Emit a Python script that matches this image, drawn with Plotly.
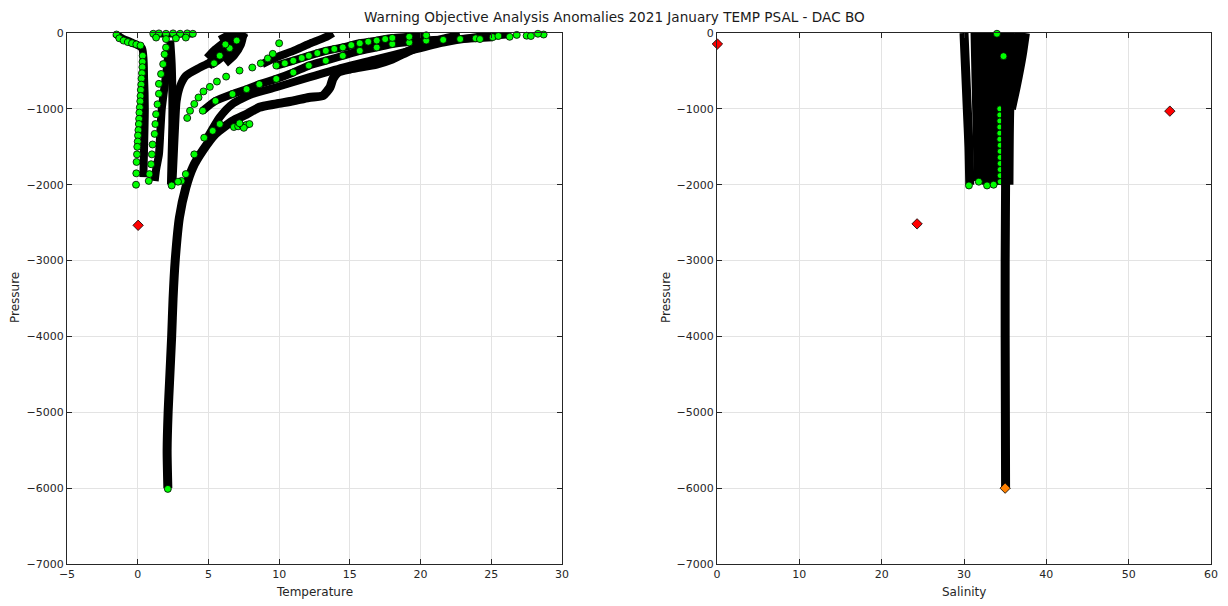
import plotly.graph_objects as go

# ---------------- Temperature panel: dense profiles (drawn as thick strokes) ----------------
deep_temp = [2.13, 2.08, 2.15, 2.25, 2.4, 2.5, 2.65, 2.95, 3.4, 3.9, 4.6, 5.5, 6.7, 7.7, 8.6, 9.8, 11.0,
             12.1, 13.1, 13.6, 13.8, 14.15, 15.0, 16.9, 18.0, 19.2, 20.4, 21.6, 22.8]
deep_pres = [-6000, -5500, -5000, -4600, -4000, -3500, -3000, -2430, -2040, -1770, -1550, -1330, -1160,
             -1070, -980, -935, -895, -850, -825, -715, -605, -520, -475, -410, -345, -235, -145, -80, -35]

strand_c_temp = [4.8, 5.8, 6.7, 8.1, 9.8, 12.1, 14.5, 16.9, 19.2, 21.6, 23.9, 26.3]
strand_c_pres = [-1420, -1110, -935, -805, -715, -585, -455, -345, -235, -125, -55, -15]

strand_a_temp = [8.8, 9.8, 11.0, 12.1, 13.3, 13.8]
strand_a_pres = [-410, -320, -235, -145, -55, 0]

strand_d_temp = [4.6, 5.5, 6.7, 7.7, 8.6, 9.8, 11.0, 12.1, 13.3, 14.5, 15.7, 16.9, 18.0, 20.4, 22.8, 25.1]
strand_d_pres = [-1025, -895, -805, -740, -675, -605, -520, -430, -365, -300, -235, -190, -145, -100, -80, -55]

strand_up_temp = [9.8, 11.0, 12.1, 13.3, 14.5, 15.7, 16.9, 18.0, 19.2, 20.4]
strand_up_pres = [-430, -365, -300, -235, -190, -135, -100, -65, -50, -30]

cold_temp = [-1.6, -1.2, -0.5, 0.3, 0.45, 0.5, 0.45, 0.4]
cold_pres = [0, -60, -120, -200, -600, -1000, -1500, -1900]

mid_temp = [2.2, 2.1, 1.9, 1.7, 1.6, 1.5, 1.3, 1.2]
mid_pres = [-150, -400, -700, -1000, -1300, -1600, -1800, -1950]

col_temp = [2.3, 2.4, 2.45, 2.45, 2.4, 2.35]
col_pres = [-100, -400, -800, -1200, -1600, -2000]

curve_temp = [2.45, 2.55, 2.65, 2.75, 3.0, 3.4, 4.4, 5.1, 5.5, 5.8, 6.5, 7.3]
curve_pres = [-2000, -1600, -1200, -900, -700, -565, -455, -385, -275, -190, -100, -20]

# warm shallow cluster around 5-7.5 degrees
clus1_temp = [5.0, 5.3, 6.0, 7.0, 7.6]
clus1_pres = [-450, -350, -250, -120, 0]
clus2_temp = [6.2, 6.8, 7.3, 7.5]
clus2_pres = [-400, -300, -150, 0]
clus3_temp = [4.9, 5.4, 6.2, 6.9]
clus3_pres = [-330, -230, -110, 0]
clus4_temp = [5.6, 6.4, 7.0, 7.6]
clus4_pres = [-200, -150, -60, -10]
clus5_temp = [5.2, 5.9, 6.6, 7.2]
clus5_pres = [-420, -330, -200, -60]
clus6_temp = [5.8, 6.3, 6.6, 7.1]
clus6_pres = [-90, -40, -10, -5]
surf_temp = [1.0, 3.9]
surf_pres = [-5, -5]

# ---------------- Temperature panel: anomaly points (green) ----------------
g_cold_temp = [-1.5, -1.3, -1.0, -0.7, -0.4, -0.1, 0.2, 0.35, 0.34, 0.33, 0.3, 0.27, 0.25, 0.22, 0.2,
               0.18, 0.15, 0.12, 0.1, 0.08, 0.05, 0.02, 0.0, -0.03, -0.05, -0.08, -0.1, -0.12]
g_cold_pres = [-20, -70, -100, -120, -135, -150, -165, -300, -380, -450, -530, -600, -680, -750, -830,
               -900, -980, -1050, -1130, -1200, -1280, -1350, -1430, -1500, -1600, -1700, -1850, -2000]

g_mid_temp = [2.0, 1.9, 1.8, 1.65, 1.5, 1.5, 1.4, 1.3, 1.25, 1.2, 1.05, 1.0, 0.95, 0.83, 0.78]
g_mid_pres = [-190, -280, -410, -540, -670, -800, -940, -1070, -1200, -1330, -1470, -1600, -1730, -1860, -1950]

g_e_temp = [3.5, 3.7, 4.0, 4.3, 4.65, 5.1, 5.6, 6.25, 7.2, 8.1, 8.7, 9.2, 9.55, 10.0]
g_e_pres = [-1120, -1025, -935, -850, -770, -710, -640, -575, -495, -455, -400, -335, -275, -135]

g_d_temp = [4.6, 5.5, 6.7, 7.7, 8.6, 9.8, 11.0, 12.1, 13.3, 14.5, 15.7, 16.9, 18.0, 19.2, 20.4, 21.6,
            22.8, 23.9, 25.1, 26.3, 27.5, 28.7, 28.3, 27.8, 26.8, 25.5, 24.2]
g_d_pres = [-1025, -895, -805, -740, -675, -605, -520, -430, -365, -300, -235, -190, -145, -125, -100,
            -90, -80, -70, -55, -50, -35, -20, -10, -40, -25, -40, -80]

g_up_temp = [9.8, 10.4, 11.0, 11.6, 12.1, 12.7, 13.3, 13.9, 14.5, 15.1, 15.7, 16.3, 16.9, 17.5, 18.0, 19.2, 20.4]
g_up_pres = [-430, -400, -365, -330, -300, -265, -235, -210, -190, -160, -135, -115, -100, -80, -65, -50, -30]

g_misc_temp = [6.8, 7.1, 7.4, 7.7, 7.9, 7.5, 7.2, 3.4, 3.1, 4.0, 4.7, 5.3, 5.8, 2.4, 2.85,
               1.1, 1.5, 2.0, 2.5, 3.0, 3.5, 3.9, 1.3, 2.0, 2.7, 3.4, 6.5, 7.0, 5.8, 6.2, 5.4, 2.13]
g_misc_pres = [-1240, -1230, -1220, -1210, -1200, -1250, -1190, -1860, -1950, -1600, -1380, -1290, -1200,
               -2010, -1960, -10, -5, -10, -5, -10, -5, -10, -60, -80, -70, -60, -200, -100, -300, -150, -400,
               -6010]

# flagged (red) point in the temperature panel
red_t_temp = [0.03]
red_t_pres = [-2535]

# ---------------- Salinity panel ----------------
sal1 = [30.0, 30.2, 30.4, 30.6, 30.7]
sal1_pres = [0, -500, -1000, -1500, -2000]
sal2 = [31.4, 31.5, 31.6, 31.7, 31.8]
sal2_pres = [0, -500, -1000, -1500, -1950]
sal3 = [32.4, 32.5, 32.6, 32.7, 32.8]
sal3_pres = [0, -500, -1000, -1500, -2000]
sal4 = [33.5, 33.5, 33.6, 33.6, 33.6]
sal4_pres = [0, -500, -1000, -1500, -2000]
sal_deep = [35.0, 35.05, 35.05, 35.0, 35.0, 35.05]
sal_deep_pres = [0, -1000, -2000, -3000, -4000, -6000]
sal5 = [34.2, 34.2, 34.3, 34.4, 34.5]
sal5_pres = [0, -500, -1000, -1500, -2000]
sal6 = [36.0, 35.8, 35.5, 35.4]
sal6_pres = [0, -500, -1000, -2000]
sal7 = [37.4, 37.0, 36.3, 35.7]
sal7_pres = [0, -300, -700, -1000]
sal8 = [36.8, 36.3, 35.8]
sal8_pres = [0, -400, -900]

g_sal = [30.6, 31.8, 32.8, 33.6, 34.8, 34.0]
g_sal_pres = [-2010, -1960, -2010, -2000, -305, -10]
g_sal_col = [34.35, 34.35, 34.35, 34.35, 34.35, 34.35, 34.4, 34.4, 34.4, 34.4, 34.4, 34.4, 34.4]
g_sal_col_pres = [-1000, -1080, -1160, -1240, -1320, -1400, -1480, -1560, -1640, -1720, -1800, -1880, -1960]

red_s = [0.05, 24.3, 55.0]
red_s_pres = [-145, -2516, -1030]
orange_s = [35.0]
orange_s_pres = [-6000]

GREEN = "#00ff00"
fig = go.Figure()


def stroke(x, y, xa, ya, w=8):
    fig.add_trace(go.Scatter(x=x, y=y, mode="lines", xaxis=xa, yaxis=ya,
                             line=dict(color="black", width=w, shape="spline", smoothing=0.6),
                             hoverinfo="skip", showlegend=False))


def dots(x, y, xa, ya, color=GREEN, symbol="circle", size=7):
    fig.add_trace(go.Scatter(x=x, y=y, mode="markers", xaxis=xa, yaxis=ya, cliponaxis=False,
                             marker=dict(color=color, symbol=symbol, size=size,
                                         line=dict(color="black", width=0.8)),
                             showlegend=False))


stroke(deep_temp, deep_pres, "x", "y", w=9)
for tx, py in [(strand_c_temp, strand_c_pres), (strand_a_temp, strand_a_pres),
               (strand_d_temp, strand_d_pres), (strand_up_temp, strand_up_pres),
               (cold_temp, cold_pres), (mid_temp, mid_pres), (col_temp, col_pres),
               (curve_temp, curve_pres), (clus1_temp, clus1_pres), (clus2_temp, clus2_pres),
               (clus3_temp, clus3_pres), (clus4_temp, clus4_pres), (clus5_temp, clus5_pres),
               (clus6_temp, clus6_pres), (surf_temp, surf_pres)]:
    stroke(tx, py, "x", "y")

for tx, py in [(g_cold_temp, g_cold_pres), (g_mid_temp, g_mid_pres), (g_e_temp, g_e_pres),
               (g_d_temp, g_d_pres), (g_up_temp, g_up_pres), (g_misc_temp, g_misc_pres)]:
    dots(tx, py, "x", "y")

dots(red_t_temp, red_t_pres, "x", "y", color="#ff0000", symbol="diamond", size=8)

stroke(sal1, sal1_pres, "x2", "y2", w=9)
for sx, py in [(sal2, sal2_pres), (sal3, sal3_pres), (sal4, sal4_pres), (sal5, sal5_pres),
               (sal6, sal6_pres), (sal7, sal7_pres), (sal8, sal8_pres)]:
    stroke(sx, py, "x2", "y2", w=10)
dots(g_sal_col, g_sal_col_pres, "x2", "y2", size=6)
stroke(sal_deep, sal_deep_pres, "x2", "y2", w=9)

dots(g_sal, g_sal_pres, "x2", "y2")
dots(red_s, red_s_pres, "x2", "y2", color="#ff0000", symbol="diamond", size=8)
dots(orange_s, orange_s_pres, "x2", "y2", color="#ff8000", symbol="diamond", size=8)

W, H = 1228, 606
axis_common = dict(showgrid=True, gridcolor="#e3e3e3", gridwidth=1, zeroline=False,
                   showline=True, linecolor="#262626", linewidth=1, mirror="ticks",
                   ticks="inside", ticklen=5, tickcolor="#262626",
                   tickfont=dict(family="DejaVu Sans", size=11, color="#262626"),
                   automargin=False)
y_dom = [1 - 564 / H, 1 - 33 / H]

fig.update_layout(
    width=W, height=H, margin=dict(l=0, r=0, t=0, b=0),
    paper_bgcolor="white", plot_bgcolor="white",
    xaxis=dict(domain=[67 / W, 562 / W], range=[-5, 30], dtick=5, anchor="y", **axis_common),
    yaxis=dict(domain=y_dom, range=[-7000, 0], dtick=1000, anchor="x", **axis_common),
    xaxis2=dict(domain=[717 / W, 1211 / W], range=[0, 60], dtick=10, anchor="y2", **axis_common),
    yaxis2=dict(domain=y_dom, range=[-7000, 0], dtick=1000, anchor="x2", **axis_common),
    font=dict(family="DejaVu Sans", color="#262626"),
)

lab = dict(family="DejaVu Sans", size=12, color="#262626")
centered = dict(xref="paper", yref="paper", showarrow=False, xanchor="center", yanchor="middle")
fig.add_annotation(text="Warning Objective Analysis Anomalies 2021 January TEMP PSAL - DAC BO",
                   x=614 / W, y=1 - 17 / H, font=dict(family="DejaVu Sans", size=13.6, color="#1a1a1a"),
                   **centered)
fig.add_annotation(text="Temperature", x=314 / W, y=1 - 592 / H, font=lab, **centered)
fig.add_annotation(text="Salinity", x=964 / W, y=1 - 592 / H, font=lab, **centered)
fig.add_annotation(text="Pressure", x=15 / W, y=1 - 298 / H, textangle=-90, font=lab, **centered)
fig.add_annotation(text="Pressure", x=666 / W, y=1 - 298 / H, textangle=-90, font=lab, **centered)

fig.write_html("out.html")
